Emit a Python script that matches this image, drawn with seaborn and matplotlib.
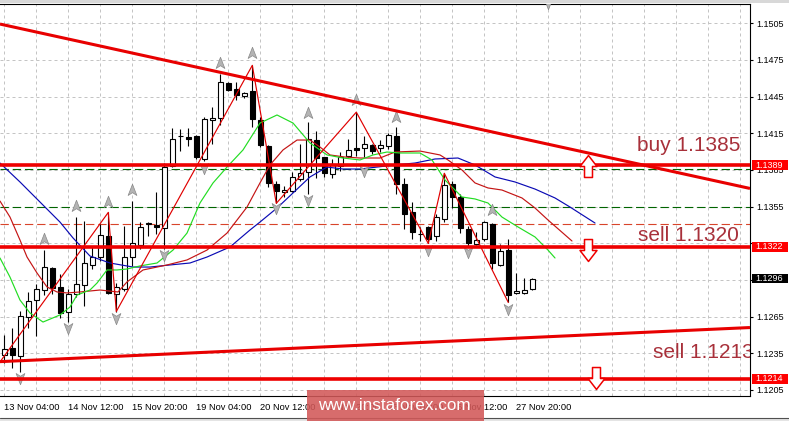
import numpy as np
import matplotlib
matplotlib.use("Agg")
import matplotlib.pyplot as plt
import matplotlib.transforms as mtransforms
from matplotlib.path import Path
from matplotlib.patches import Rectangle
import seaborn as sns

# ---------------- data (EURUSD H4) ----------------
opens = [1.12337, 1.12392, 1.12329, 1.12648, 1.12785, 1.12870, 1.13048, 1.12894, 1.12692, 1.12834,
         1.12908, 1.13072, 1.13140, 1.13312, 1.12834, 1.12875, 1.13140, 1.13236, 1.13408, 1.13400,
         1.13375, 1.13886, 1.14124, 1.14118, 1.14124, 1.13941, 1.14263, 1.14274, 1.14561, 1.14515,
         1.14452, 1.14493, 1.14261, 1.14050, 1.13736, 1.13673, 1.13675, 1.13780, 1.13837, 1.14097,
         1.13954, 1.13818, 1.13886, 1.13968, 1.14031, 1.14031, 1.14058, 1.14031, 1.14044, 1.14126,
         1.13736, 1.13509, 1.13326, 1.13380, 1.13312, 1.13449, 1.13736, 1.13632, 1.13367, 1.13244,
         1.13285, 1.13408, 1.13075, 1.13195, 1.12843, 1.12843, 1.12875]
highs = [1.12501, 1.12558, 1.12698, 1.12848, 1.12921, 1.13195, 1.13058, 1.13003, 1.12875, 1.13468,
         1.13435, 1.13225, 1.13408, 1.13503, 1.12929, 1.13392, 1.13599, 1.13421, 1.13421, 1.13667,
         1.13905, 1.14192, 1.14187, 1.14195, 1.14140, 1.14282, 1.14364, 1.14638, 1.14569, 1.14569,
         1.14487, 1.14706, 1.14282, 1.14058, 1.13763, 1.13722, 1.13831, 1.14064, 1.14241, 1.14173,
         1.13960, 1.13941, 1.13995, 1.14105, 1.14323, 1.14132, 1.14064, 1.14097, 1.14154, 1.14200,
         1.13785, 1.13585, 1.13380, 1.13394, 1.13490, 1.13823, 1.13757, 1.13654, 1.13394, 1.13339,
         1.13430, 1.13413, 1.13244, 1.13285, 1.13011, 1.12970, 1.12970]
lows = [1.12274, 1.12233, 1.12200, 1.12561, 1.12493, 1.12829, 1.12839, 1.12643, 1.12610, 1.12807,
        1.12738, 1.13044, 1.13107, 1.12833, 1.12692, 1.12861, 1.13066, 1.13203, 1.13312, 1.13326,
        1.13203, 1.13878, 1.14009, 1.14050, 1.13941, 1.13927, 1.14064, 1.14214, 1.14495, 1.14419,
        1.14441, 1.14200, 1.14036, 1.13708, 1.13577, 1.13626, 1.13667, 1.13763, 1.13654, 1.13785,
        1.13790, 1.13782, 1.13845, 1.13954, 1.13968, 1.13954, 1.13982, 1.13995, 1.14023, 1.13654,
        1.13367, 1.13285, 1.13266, 1.13249, 1.13266, 1.13421, 1.13539, 1.13331, 1.13216, 1.13239,
        1.13271, 1.13039, 1.13066, 1.12766, 1.12834, 1.12834, 1.12867]
closes = [1.12384, 1.12334, 1.12659, 1.12779, 1.12875, 1.13058, 1.12884, 1.12684, 1.12834, 1.12921,
          1.13089, 1.13138, 1.13320, 1.12841, 1.12889, 1.13138, 1.13255, 1.13386, 1.13413, 1.13384,
          1.13872, 1.14105, 1.14126, 1.14107, 1.13954, 1.14269, 1.14274, 1.14569, 1.14507, 1.14460,
          1.14482, 1.14269, 1.14056, 1.13741, 1.13681, 1.13689, 1.13790, 1.13826, 1.14105, 1.13946,
          1.13829, 1.13900, 1.13954, 1.14015, 1.14015, 1.14064, 1.14009, 1.14056, 1.14138, 1.13736,
          1.13490, 1.13339, 1.13326, 1.13285, 1.13468, 1.13728, 1.13632, 1.13375, 1.13252, 1.13277,
          1.13421, 1.13085, 1.13189, 1.12829, 1.12861, 1.12867, 1.12957]

date_labels = ["13 Nov 04:00", "14 Nov 12:00", "15 Nov 20:00", "19 Nov 04:00", "20 Nov 12:00",
               "21 Nov 20:00", "23 Nov 04:00", "26 Nov 12:00", "27 Nov 20:00"]
date_label_bars = [0, 8, 16, 24, 32, 40, 48, 56, 64]
price_ticks = [1.1205, 1.1235, 1.1265, 1.1295, 1.1325, 1.1355, 1.1385, 1.1415, 1.1445, 1.1475, 1.1505]
price_tick_labels = ["1.1205", "1.1235", "1.1265", "", "", "1.1355", "1.1385", "1.1415", "1.1445",
                     "1.1475", "1.1505"]

# Alligator lines (shifted forward)
jaw_x = [-0.54, 1.96, 4.46, 6.96, 8.59, 10.71, 13.21, 16.09, 18.21, 20.71, 23.21, 25.34, 28.21, 30.71,
         31.96, 34.09, 36.09, 38.21, 40.34, 42.34, 44.46, 46.59, 48.84, 51.34, 53.84, 56.71, 58.84,
         61.34, 63.84, 66.34, 68.84, 70.71, 73.84]
jaw_y = [1.13907, 1.13752, 1.13588, 1.13424, 1.13294, 1.13146, 1.13089, 1.13056, 1.13056, 1.13073,
         1.13089, 1.13138, 1.13220, 1.13359, 1.13424, 1.13539, 1.13662, 1.13793, 1.13874, 1.13858,
         1.13858, 1.13874, 1.13891, 1.13907, 1.13940, 1.13948, 1.13891, 1.13793, 1.13752, 1.13694,
         1.13621, 1.13547, 1.13416]
teeth_x = [-0.54, 0.71, 1.96, 2.84, 4.09, 5.34, 6.59, 7.84, 9.46, 11.96, 14.21, 15.34, 17.34, 20.34,
           22.84, 25.34, 27.84, 30.34, 31.96, 33.21, 34.84, 36.59, 38.21, 39.46, 40.71, 42.59, 44.46,
           46.96, 48.84, 51.96, 54.46, 55.46, 57.21, 58.84, 60.46, 62.21, 64.71, 66.34, 67.96, 70.96]
teeth_y = [1.13596, 1.13465, 1.13277, 1.13138, 1.13007, 1.12893, 1.12852, 1.12844, 1.12852, 1.12868,
           1.12852, 1.12934, 1.13032, 1.13073, 1.13114, 1.13195, 1.13334, 1.13547, 1.13744, 1.13891,
           1.14014, 1.14095, 1.14095, 1.14038, 1.13973, 1.13956, 1.13948, 1.13948, 1.13997, 1.14005,
           1.13973, 1.13932, 1.13850, 1.13744, 1.13703, 1.13686, 1.13621, 1.13539, 1.13441, 1.13269]
lips_x = [-0.54, 0.71, 1.96, 3.21, 4.84, 6.96, 8.21, 9.09, 10.71, 11.59, 12.84, 14.09, 15.34, 16.96,
          19.09, 21.09, 22.84, 24.46, 26.09, 27.84, 29.84, 31.96, 34.09, 36.09, 38.21, 40.34, 42.34,
          44.46, 46.09, 47.84, 49.46, 51.96, 53.46, 55.09, 57.21, 58.84, 60.46, 62.21, 64.21, 66.34,
          67.96, 68.84]
lips_y = [1.13130, 1.12974, 1.12786, 1.12680, 1.12606, 1.12664, 1.12729, 1.12827, 1.12868, 1.12925,
          1.13032, 1.13032, 1.13040, 1.13065, 1.13089, 1.13195, 1.13334, 1.13580, 1.13744, 1.13874,
          1.14014, 1.14234, 1.14300, 1.14234, 1.14071, 1.13973, 1.13948, 1.13932, 1.13973, 1.13997,
          1.13989, 1.13989, 1.13932, 1.13768, 1.13629, 1.13613, 1.13580, 1.13465, 1.13384, 1.13302,
          1.13195, 1.13130]
zigzag_x = [-1, 13, 14, 31, 34, 44, 53, 55, 63]
zigzag_y = [1.12238, 1.13503, 1.12692, 1.14706, 1.13577, 1.14323, 1.13249, 1.13823, 1.12766]

fractal_up_x = [5, 9, 13, 16, 27, 31, 38, 44, 49, 61]
fractal_up_y = [1.13283, 1.13555, 1.13591, 1.13686, 1.14728, 1.14805, 1.14319, 1.14423, 1.14286, 1.13523]
fractal_dn_x = [2, 8, 14, 20, 25, 34, 38, 45, 53, 58, 63, 68]
fractal_dn_y = [1.12148, 1.12555, 1.12637, 1.13155, 1.13864, 1.13537, 1.13604, 1.13842, 1.13195,
                1.13181, 1.12710, 1.15218]

solid_levels = [1.1389, 1.1322, 1.1214]
green_levels = [1.13856, 1.1355]
orange_levels = [1.13408]
trend_down_x = [-0.54, 93.21]
trend_down_y = [1.15044, 1.13699]
trend_up_x = [-0.54, 93.21]
trend_up_y = [1.12282, 1.12561]

signal_texts = ["buy 1.1385", "sell 1.1320", "sell 1.1213"]
signal_text_x = [79.05, 79.25, 81.05]
signal_text_y = [1.14008, 1.13271, 1.12309]
arrow_up_x, arrow_up_y = [72.9], [1.13884]
arrow_dn_x, arrow_dn_y = [72.9, 73.9], [1.13199, 1.12148]

price_boxes = [1.1389, 1.1322, 1.1296, 1.1214]
price_box_colors = ["#ff0000", "#ff0000", "#000000", "#ff0000"]

# ---------------- style ----------------
sns.set_style("white")
plt.rcParams["font.family"] = ["Liberation Sans", "DejaVu Sans"]

W, H = 789, 421
fig = plt.figure(figsize=(W / 100, H / 100), dpi=100)
fig.patch.set_facecolor("white")
ax = fig.add_axes([0.0, 25.5 / H, 750 / W, 391.5 / H])
ax.set_facecolor("white")

idx = np.arange(len(opens))
O, Hh, L, C = map(np.array, (opens, highs, lows, closes))

# grid
ax.set_xlim(-0.5375, 93.2125)
ax.set_ylim(1.12005, 1.15208)
ax.set_xticks(date_label_bars)
ax.set_xticklabels(date_labels)
ax.set_xticks(np.arange(0, 94, 4), minor=True)
ax.yaxis.tick_right()
ax.set_yticks(price_ticks)
ax.set_yticklabels(price_tick_labels)
ax.grid(which="both", axis="x", color="#c4c4c4", lw=0.72, ls=(0, (3, 3)), zorder=0)
ax.grid(which="major", axis="y", color="#c4c4c4", lw=0.72, ls=(0, (3, 3)), zorder=0)
ax.set_axisbelow(True)

ax.tick_params(axis="x", which="major", direction="out", length=3, width=0.8, pad=2.5,
               labelsize=6.7, colors="black")
ax.tick_params(axis="x", which="minor", length=0)
ax.tick_params(axis="y", which="major", direction="out", length=2.2, width=0.8, pad=2.6,
               labelsize=6.5, colors="black", right=True, left=False)
for lab in ax.get_xticklabels():
    lab.set_ha("left")

for s in ["top", "right", "bottom"]:
    ax.spines[s].set_visible(True)
    ax.spines[s].set_color("black")
    ax.spines[s].set_linewidth(0.8)
ax.spines["left"].set_visible(False)

# dashed horizontal levels
for lv in green_levels:
    ax.axhline(lv, color="#006400", lw=0.8, ls=(0, (7.5, 3.5)), zorder=1)
for lv in orange_levels:
    ax.axhline(lv, color="#d8442a", lw=0.8, ls=(0, (7.5, 3.5)), zorder=1)

# candles
ax.vlines(idx, L, Hh, color="black", lw=0.8, zorder=3)
body_bottom = np.minimum(O, C)
body_h = np.maximum(np.abs(C - O), 0.00002)
ax.bar(idx, body_h, bottom=body_bottom, width=0.6,
       color=np.where(C >= O, "white", "black"), edgecolor="black", linewidth=0.8, zorder=4)

# alligator + zigzag
sns.lineplot(x=jaw_x, y=jaw_y, color="#0a0ab4", lw=0.85, ax=ax, estimator=None, legend=False, zorder=5)
sns.lineplot(x=teeth_x, y=teeth_y, color="#c41414", lw=0.85, ax=ax, estimator=None, legend=False, zorder=5)
sns.lineplot(x=lips_x, y=lips_y, color="#22dd22", lw=0.85, ax=ax, estimator=None, legend=False, zorder=5)
sns.lineplot(x=zigzag_x, y=zigzag_y, color="#e00000", lw=0.85, ax=ax, estimator=None, legend=False, zorder=5)

# fractals
frac_up = Path([(0, 1), (0.7, -0.8), (0, -0.35), (-0.7, -0.8), (0, 1)],
               [Path.MOVETO, Path.LINETO, Path.LINETO, Path.LINETO, Path.CLOSEPOLY])
frac_dn = Path([(0, -1), (0.7, 0.8), (0, 0.35), (-0.7, 0.8), (0, -1)],
               [Path.MOVETO, Path.LINETO, Path.LINETO, Path.LINETO, Path.CLOSEPOLY])
ax.plot(fractal_up_x, fractal_up_y, ls="none", marker=frac_up, ms=9, mfc="#b4b4b4", mec="#888888",
        mew=0.5, zorder=6)
ax.plot(fractal_dn_x, fractal_dn_y, ls="none", marker=frac_dn, ms=9, mfc="#b4b4b4", mec="#888888",
        mew=0.5, zorder=6)

# thick red levels and trendlines
for lv in solid_levels:
    ax.axhline(lv, color="#ee0000", lw=2.6, zorder=7)
ax.plot(trend_down_x, trend_down_y, color="#e80000", lw=2.2, zorder=7, solid_capstyle="butt")
ax.plot(trend_up_x, trend_up_y, color="#e80000", lw=2.2, zorder=7, solid_capstyle="butt")

# hollow block arrows
up_arrow = Path([(0, 11), (8.5, 0), (4, 0), (4, -11), (-4, -11), (-4, 0), (-8.5, 0), (0, 11)],
                [Path.MOVETO] + [Path.LINETO] * 6 + [Path.CLOSEPOLY])
dn_arrow = Path([(0, -11), (8.5, 0), (4, 0), (4, 11), (-4, 11), (-4, 0), (-8.5, 0), (0, -11)],
                [Path.MOVETO] + [Path.LINETO] * 6 + [Path.CLOSEPOLY])
ax.plot(arrow_up_x, arrow_up_y, ls="none", marker=up_arrow, ms=15.8, mfc="white", mec="#ee0000",
        mew=1.1, zorder=8)
ax.plot(arrow_dn_x, arrow_dn_y, ls="none", marker=dn_arrow, ms=15.8, mfc="white", mec="#ee0000",
        mew=1.1, zorder=8)

# signal texts
for t, x, y in zip(signal_texts, signal_text_x, signal_text_y):
    ax.text(x, y, t, color="#a8303a", fontsize=15, ha="left", va="baseline", zorder=9, clip_on=True)

# price boxes on the axis
trans = mtransforms.blended_transform_factory(ax.transAxes, ax.transData)
for p, c in zip(price_boxes, price_box_colors):
    ax.add_patch(Rectangle((1.0027, p - 0.000385), 0.048, 0.00077, transform=trans,
                           facecolor=c, edgecolor="none", clip_on=False, zorder=10))
    ax.text(1.0067, p, f"{p:.4f}", transform=trans, color="white", fontsize=6.5,
            ha="left", va="center", clip_on=False, zorder=11)

# window frame bits
fig.patches.append(Rectangle((0, (H - 3) / H), 1, 3 / H, transform=fig.transFigure,
                             facecolor="#d8d8d8", edgecolor="none", zorder=1))
fig.patches.append(Rectangle((0, 0), 1, 3.5 / H, transform=fig.transFigure,
                             facecolor="#e4e4e4", edgecolor="none", zorder=1))
fig.lines.append(plt.Line2D([0, 1], [3.5 / H, 3.5 / H], transform=fig.transFigure,
                            color="#505050", lw=0.8, zorder=2))

# watermark
fig.patches.append(Rectangle((306.7 / W, 0), (484 - 306.7) / W, 31 / H, transform=fig.transFigure,
                             facecolor="#d25858", edgecolor="none", alpha=0.88, zorder=3))
fig.text(394 / W, (H - 405.5) / H, "www.instaforex.com", color="white", fontsize=12.3,
         ha="center", va="center", zorder=4)

fig.savefig("out.png", dpi=100)
